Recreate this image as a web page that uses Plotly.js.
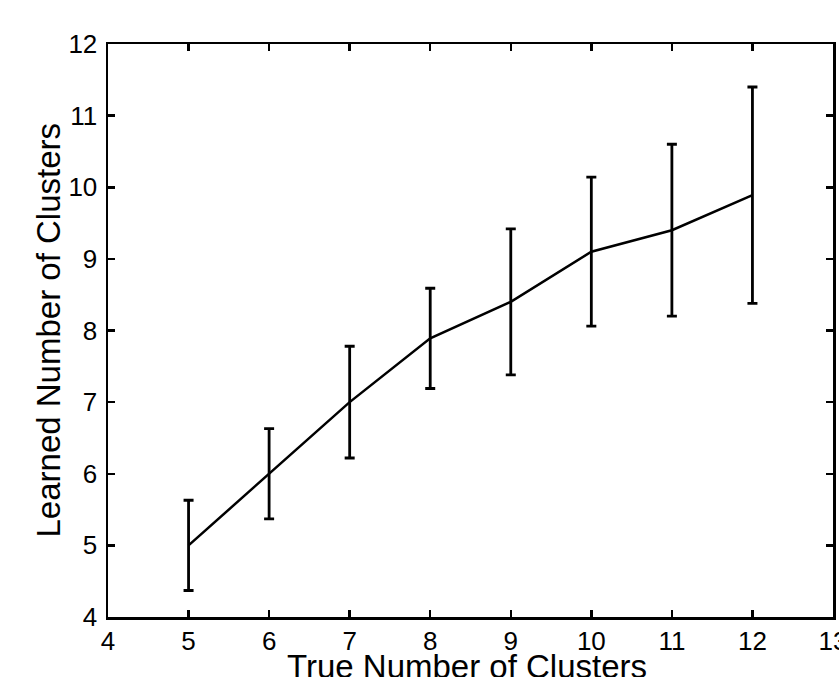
<!DOCTYPE html>
<html>
<head>
<meta charset="utf-8">
<script src="https://cdn.plot.ly/plotly-3.0.1.min.js"></script>
<style>html,body{margin:0;padding:0;background:#fff;}#chart{width:839px;height:677px;}</style>
</head>
<body>
<div id="chart"></div>
<script>
var trueClusters = [5, 6, 7, 8, 9, 10, 11, 12];
var learnedMean = [5.0, 6.0, 7.0, 7.89, 8.40, 9.10, 9.40, 9.89];
var learnedErr = [0.63, 0.63, 0.78, 0.70, 1.02, 1.04, 1.20, 1.51];
var xTicks = [4, 5, 6, 7, 8, 9, 10, 11, 12, 13];
var yTicks = [4, 5, 6, 7, 8, 9, 10, 11, 12];
var xTitle = 'True Number of Clusters';
var yTitle = 'Learned Number of Clusters';

var trace = {
  x: trueClusters,
  y: learnedMean,
  type: 'scatter',
  mode: 'lines',
  line: {color: '#000', width: 2.5},
  error_y: {type: 'data', array: learnedErr, visible: true, color: '#000', thickness: 2.8, width: 5},
  hoverinfo: 'skip'
};

var fam = 'Liberation Sans, Arial, Helvetica, sans-serif';

var layout = {
  width: 839, height: 677,
  margin: {l: 108, r: 6, t: 44, b: 60, pad: 0},
  paper_bgcolor: '#fff', plot_bgcolor: '#fff',
  showlegend: false,
  font: {family: fam, color: '#000'},
  xaxis: {
    range: [4, 13], tickvals: xTicks, ticktext: xTicks.map(String),
    showgrid: false, zeroline: false,
    showline: true, linecolor: '#000', linewidth: 2.5, mirror: 'ticks',
    ticks: 'inside', ticklen: 7, tickwidth: 2.5, tickcolor: '#000',
    tickfont: {family: fam, size: 26, color: '#000'},
    ticklabelstandoff: -1,
    ticklabeloverflow: 'allow'
  },
  yaxis: {
    range: [4, 12], tickvals: yTicks, ticktext: yTicks.map(String),
    showgrid: false, zeroline: false,
    showline: true, linecolor: '#000', linewidth: 2.5, mirror: 'ticks',
    ticks: 'inside', ticklen: 7, tickwidth: 2.5, tickcolor: '#000',
    tickfont: {family: fam, size: 26, color: '#000'},
    ticklabelstandoff: 3,
    ticklabeloverflow: 'allow'
  },
  annotations: [
    {text: xTitle, xref: 'paper', yref: 'paper', x: 0.5, y: 0, xanchor: 'center', yanchor: 'top',
     xshift: -4, yshift: -29, showarrow: false, font: {family: fam, size: 33, color: '#000'}},
    {text: yTitle, xref: 'paper', yref: 'paper', x: 0, y: 0.5, xanchor: 'center', yanchor: 'middle',
     xshift: -60, showarrow: false, textangle: -90, font: {family: fam, size: 33, color: '#000'}}
  ]
};

Plotly.newPlot('chart', [trace], layout, {displayModeBar: false, staticPlot: true});
</script>
</body>
</html>
